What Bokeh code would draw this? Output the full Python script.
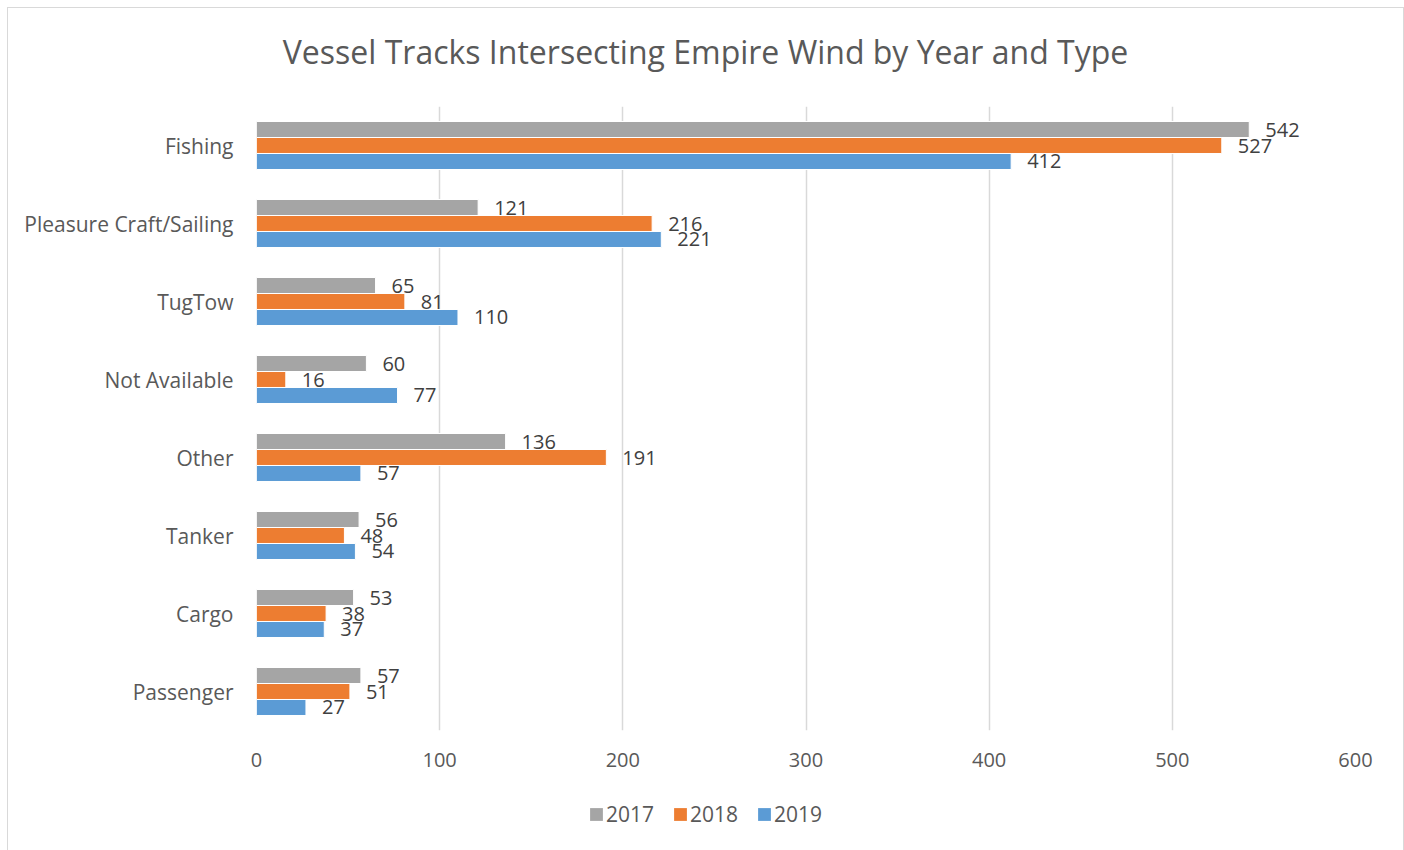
from bokeh.plotting import figure
from bokeh.layouts import column
from bokeh.models import (ColumnDataSource, FactorRange, Range1d, Label, Legend, LegendItem,
                          FixedTicker)
from bokeh.transform import dodge
from bokeh.core.properties import value
from bokeh.embed import file_html
from bokeh.resources import INLINE

categories = ["Fishing", "Pleasure Craft/Sailing", "TugTow", "Not Available",
              "Other", "Tanker", "Cargo", "Passenger"]
y2017 = [542, 121, 65, 60, 136, 56, 53, 57]
y2018 = [527, 216, 81, 16, 191, 48, 38, 51]
y2019 = [412, 221, 110, 77, 57, 54, 37, 27]
years = ["2017", "2018", "2019"]
colors = ["#A5A5A5", "#ED7D31", "#5B9BD5"]
x_ticks = [0, 100, 200, 300, 400, 500, 600]
title_text = "Vessel Tracks Intersecting Empire Wind by Year and Type"

FONT = "Open Sans"
TXT = "#595959"
W = 1395
ML, MR = 248, 48

src = ColumnDataSource(dict(cat=categories, y2017=y2017, y2018=y2018, y2019=y2019,
                            l2017=[str(v) for v in y2017],
                            l2018=[str(v) for v in y2018],
                            l2019=[str(v) for v in y2019]))

# ---- title strip
tf = figure(width=W, height=98, output_backend="svg", toolbar_location=None,
            x_range=Range1d(0, 1), y_range=Range1d(0, 1),
            min_border_left=ML, min_border_right=MR, min_border_top=0, min_border_bottom=0)
tf.axis.visible = False
tf.grid.grid_line_color = None
tf.outline_line_color = None
tf.add_layout(Label(x=449, y=55, x_units="screen", y_units="screen", text=title_text,
                    text_align="center", text_baseline="middle", text_font=FONT,
                    text_font_size="32px", text_color=TXT))

# ---- main chart
p = figure(width=W, height=672, output_backend="svg", toolbar_location=None,
           y_range=FactorRange(factors=categories[::-1], range_padding=0),
           x_range=Range1d(0, 600),
           min_border_left=ML, min_border_right=MR, min_border_top=0,
           min_border_bottom=48)
p.outline_line_color = None

h = 0.205
offsets = [h, 0.0, -h]
for yr, col, off in zip(years, colors, offsets):
    p.hbar(y=dodge("cat", off, range=p.y_range), right="y" + yr, left=0, height=h,
           source=src, fill_color=col, line_color="white", line_width=1)
    p.text(x="y" + yr, y=dodge("cat", off, range=p.y_range), text="l" + yr, source=src,
           x_offset=16, text_align="left", text_baseline="middle",
           text_font=value(FONT), text_font_size="20px", text_color="#404040")

p.xaxis.ticker = FixedTicker(ticks=x_ticks)
p.xaxis.axis_line_color = None
p.xaxis.major_tick_line_color = None
p.xaxis.minor_tick_line_color = None
p.xaxis.major_label_text_font = FONT
p.xaxis.major_label_text_font_size = "20px"
p.xaxis.major_label_text_color = TXT
p.xaxis.major_label_standoff = 16

p.yaxis.axis_line_color = None
p.yaxis.major_tick_line_color = None
p.yaxis.minor_tick_line_color = None
p.yaxis.major_label_text_font = FONT
p.yaxis.major_label_text_font_size = "21px"
p.yaxis.major_label_text_color = TXT
p.yaxis.major_label_standoff = 17

p.ygrid.grid_line_color = None
p.xgrid.grid_line_color = "#D9D9D9"
p.xgrid.grid_line_width = 1.5
p.xgrid.ticker = FixedTicker(ticks=x_ticks)

# ---- legend strip
lg = figure(width=W, height=73, output_backend="svg", toolbar_location=None,
            x_range=Range1d(0, 1), y_range=Range1d(0, 1),
            min_border_left=ML, min_border_right=MR, min_border_top=0, min_border_bottom=0)
lg.axis.visible = False
lg.grid.grid_line_color = None
lg.outline_line_color = None
proxies = [lg.hbar(y=0, left=0, right="y" + yr, height=1, source=src,
                   fill_color=c, line_color=None, visible=False)
           for yr, c in zip(years, colors)]
legend = Legend(items=[LegendItem(label=yr, renderers=[r]) for yr, r in zip(years, proxies)],
                orientation="horizontal", location=(332, 23),
                label_text_font=FONT, label_text_font_size="21px", label_text_color=TXT,
                glyph_width=16, glyph_height=16, label_standoff=2, spacing=18,
                padding=0, margin=0, border_line_color=None, background_fill_alpha=0,
                inactive_fill_alpha=0, label_height=20)
lg.add_layout(legend, "center")

layout = column(tf, p, lg, spacing=0)
layout.styles = {"border": "1px solid #D9D9D9", "margin-left": "7px", "margin-top": "7px"}

open("out.html", "w").write(file_html(layout, INLINE))
